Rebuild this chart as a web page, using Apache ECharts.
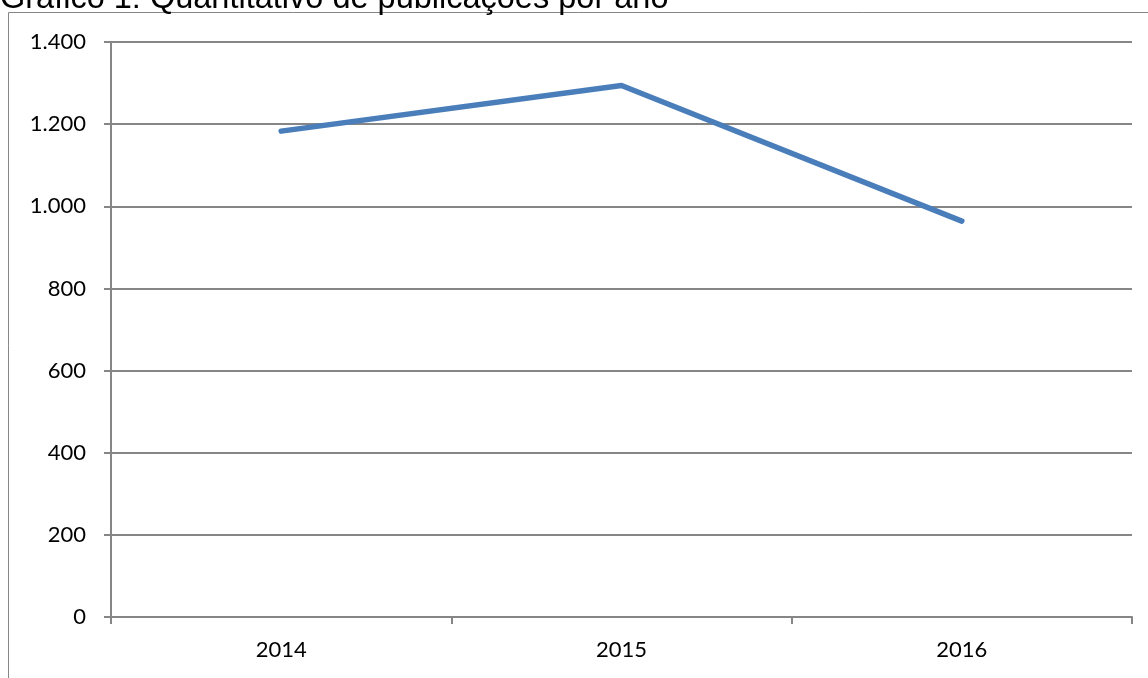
<!DOCTYPE html>
<html>
<head>
<meta charset="utf-8">
<script src="https://cdn.jsdelivr.net/npm/echarts@6/dist/echarts.min.js"></script>
<style>
  html, body { margin: 0; padding: 0; background: #fff; }
  #chart { width: 1148px; height: 678px; }
</style>
</head>
<body>
<div id="chart"></div>
<script>
// dados do gráfico
var anos = ['2014', '2015', '2016'];
var publicacoes = [1183, 1294, 964];
var yTicks = [0, 200, 400, 600, 800, 1000, 1200, 1400];

var chart = echarts.init(document.getElementById('chart'));

function fmtMilhar(v) {
    return String(v).replace(/\B(?=(\d{3})+(?!\d))/g, '.');
}

var option = {
    animation: false,
    // moldura e título
    graphic: [
        {
            type: 'polyline',
            shape: { points: [[8.5, 678], [8.5, 12.5], [1148, 12.5]] },
            style: { stroke: '#868686', lineWidth: 1, fill: null }
        },
        {
            type: 'text',
            left: 0,
            top: -17,
            style: {
                text: 'Gráfico 1: Quantitativo de publicações por ano',
                fontFamily: 'Liberation Sans',
                fontSize: 32.5,
                fill: '#000'
            }
        }
    ],
    grid: { left: 111, right: 16, top: 42, bottom: 61 },
    xAxis: {
        type: 'category',
        data: anos,
        boundaryGap: true,
        axisLine: { lineStyle: { color: '#868686', width: 2 } },
        axisTick: { show: true, length: 7, lineStyle: { color: '#868686', width: 2 } },
        axisLabel: {
            color: '#000',
            fontFamily: 'Lato',
            fontSize: 22,
            margin: 22
        }
    },
    yAxis: {
        type: 'value',
        min: yTicks[0],
        max: yTicks[yTicks.length - 1],
        interval: 200,
        axisLine: { show: true, lineStyle: { color: '#868686', width: 2 } },
        axisTick: { show: true, length: 7, lineStyle: { color: '#868686', width: 2 } },
        splitLine: { lineStyle: { color: '#868686', width: 2 } },
        axisLabel: {
            color: '#000',
            fontFamily: 'Lato',
            fontSize: 22,
            margin: 25,
            formatter: fmtMilhar
        }
    },
    series: [
        {
            type: 'line',
            data: publicacoes,
            symbol: 'none',
            lineStyle: { color: '#4a7ebb', width: 5.5, cap: 'round', join: 'round' }
        }
    ]
};

chart.setOption(option);
</script>
</body>
</html>
